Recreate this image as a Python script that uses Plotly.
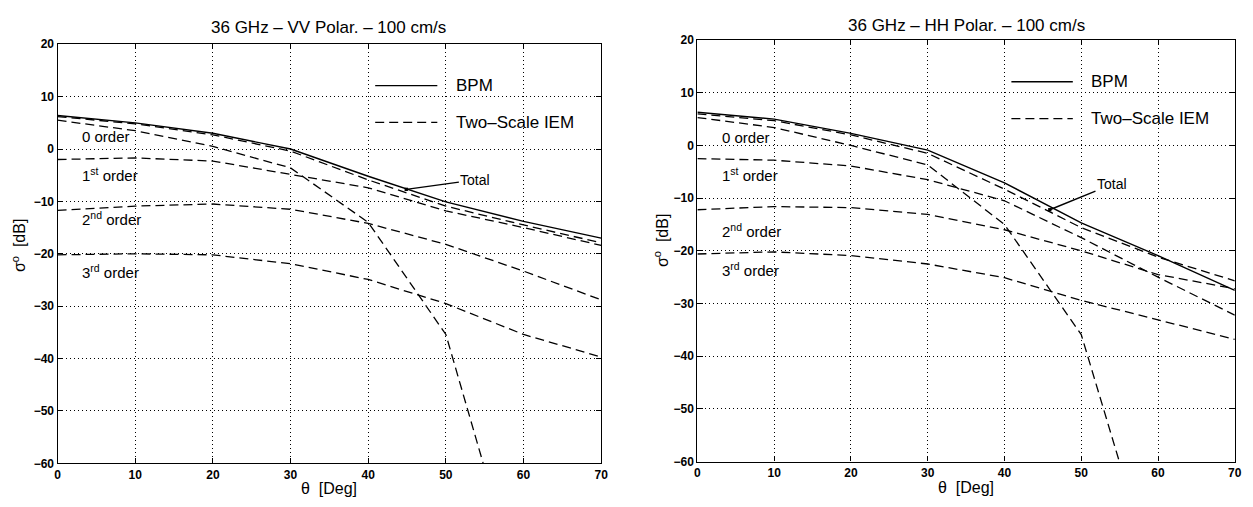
import plotly.graph_objects as go

# ---------------- data ----------------
THETA = [0, 10, 20, 30, 40, 50, 60, 70]
THETA_ZERO = [0, 10, 20, 30, 40, 50, 55]

# VV polarisation
VV_BPM = [6.4, 5.0, 3.0, 0.0, -5.2, -10.1, -13.8, -17.0]
VV_TOTAL = [6.2, 4.8, 2.7, -0.4, -5.9, -10.9, -14.5, -17.9]
VV_ORDER0 = [5.5, 3.5, 0.5, -3.6, -14.0, -35.4, -61.0]
VV_ORDER1 = [-2.0, -1.7, -2.3, -4.8, -7.4, -11.8, -15.0, -18.4]
VV_ORDER2 = [-11.7, -10.9, -10.5, -11.5, -14.2, -18.2, -23.3, -28.8]
VV_ORDER3 = [-20.2, -20.0, -20.2, -21.9, -24.9, -29.5, -35.4, -39.7]

# HH polarisation
HH_BPM = [6.3, 5.0, 2.3, -0.9, -7.1, -14.7, -20.9, -27.5]
HH_TOTAL = [6.0, 4.7, 2.0, -1.5, -8.3, -15.6, -21.2, -25.7]
HH_ORDER0 = [5.3, 3.4, 0.0, -3.7, -15.0, -35.9, -60.2]
HH_ORDER1 = [-2.5, -2.8, -3.9, -6.5, -10.5, -17.5, -25.0, -32.2]
HH_ORDER2 = [-12.2, -11.6, -11.8, -13.1, -16.0, -20.0, -24.5, -27.2]
HH_ORDER3 = [-20.6, -20.2, -20.9, -22.5, -25.1, -29.4, -33.1, -36.8]

TITLES = ["36 GHz \u2013 VV Polar. \u2013 100 cm/s", "36 GHz \u2013 HH Polar. \u2013 100 cm/s"]
ORDER_LABELS = ["0 order", "1<sup>st</sup> order", "2<sup>nd</sup> order", "3<sup>rd</sup> order"]
LEGEND_LABELS = ["BPM", "Two\u2013Scale IEM"]
X_TITLE = "\u03b8  [Deg]"
Y_TITLE = "\u03c3<sup>o</sup>  [dB]"
X_TICKS = [0, 10, 20, 30, 40, 50, 60, 70]
Y_TICKS = [-60, -50, -40, -30, -20, -10, 0, 10, 20]

# ---------------- layout helpers ----------------
W, H = 1253, 507
FONT = "Liberation Sans, Arial, Helvetica, sans-serif"


def pxx(x):
    return x / W


def pyy(y):
    return 1 - y / H


DOMAINS = [
    dict(x=[pxx(55), pxx(603)], y=[pyy(469.3), pyy(38.3)]),
    dict(x=[pxx(700), pxx(1241.7)], y=[pyy(467.5), pyy(34)]),
]

fig = go.Figure()

DASH = "9px,5px"
panels = [
    (VV_BPM, VV_TOTAL, VV_ORDER0, VV_ORDER1, VV_ORDER2, VV_ORDER3),
    (HH_BPM, HH_TOTAL, HH_ORDER0, HH_ORDER1, HH_ORDER2, HH_ORDER3),
]

for i, (bpm, tot, o0, o1, o2, o3) in enumerate(panels):
    xa = "x" if i == 0 else "x2"
    ya = "y" if i == 0 else "y2"
    dashed = dict(color="black", width=1.3, dash=DASH)
    for series, xs in [(o3, THETA), (o2, THETA), (o1, THETA), (o0, THETA_ZERO), (tot, THETA)]:
        fig.add_trace(go.Scatter(x=xs, y=series, mode="lines", line=dashed,
                                 xaxis=xa, yaxis=ya, showlegend=False, hoverinfo="skip"))
    fig.add_trace(go.Scatter(x=THETA, y=bpm, mode="lines",
                             line=dict(color="black", width=1.4),
                             xaxis=xa, yaxis=ya, showlegend=False, hoverinfo="skip"))

axis_common = dict(
    showline=True, linecolor="black", linewidth=1.3, mirror="allticks",
    ticks="inside", ticklen=5, tickcolor="black", tickwidth=1,
    showgrid=True, gridcolor="black", griddash="1px,3px", gridwidth=1.2,
    zeroline=False, tickfont=dict(family=FONT, size=12, color="black", weight="bold"),
)

fig.update_layout(
    width=W, height=H,
    margin=dict(l=0, r=0, t=0, b=0),
    paper_bgcolor="white", plot_bgcolor="white",
    font=dict(family=FONT, color="black"),
    xaxis=dict(domain=DOMAINS[0]["x"], anchor="y", range=[0, 70], tickvals=X_TICKS, **axis_common),
    yaxis=dict(domain=DOMAINS[0]["y"], anchor="x", range=[-60, 20], tickvals=Y_TICKS, **axis_common),
    xaxis2=dict(domain=DOMAINS[1]["x"], anchor="y2", range=[0, 70], tickvals=X_TICKS, **axis_common),
    yaxis2=dict(domain=DOMAINS[1]["y"], anchor="x2", range=[-60, 20], tickvals=Y_TICKS, **axis_common),
)

annotations = []
shapes = []

# per-panel decorations
order_pos = [
    [(2.9, 2.4), (2.9, -4.9), (2.9, -13.3), (2.9, -23.3)],
    [(3.0, 1.6), (3.0, -5.6), (3.0, -16.2), (3.0, -23.5)],
]
total_arrow = [
    dict(tip=(44.9, -7.7), text=(53.8, -5.9)),
    dict(tip=(45.9, -12.2), text=(54.0, -7.4)),
]
title_px = [(328, 21), (971, 19)]
xtitle_px = [(329, 495), (971, 494)]
ytitle_px = [(16, 245), (664, 240)]

for i in range(2):
    xr = "x" if i == 0 else "x2"
    yr = "y" if i == 0 else "y2"
    # titles
    annotations.append(dict(text=TITLES[i], x=pxx(title_px[i][0]), y=pyy(title_px[i][1]),
                            xref="paper", yref="paper", showarrow=False,
                            font=dict(size=17, family=FONT), xanchor="center", yanchor="middle"))
    annotations.append(dict(text=X_TITLE, x=pxx(xtitle_px[i][0]), y=pyy(xtitle_px[i][1]),
                            xref="paper", yref="paper", showarrow=False,
                            font=dict(size=16, family=FONT), xanchor="center", yanchor="middle"))
    annotations.append(dict(text=Y_TITLE, x=pxx(ytitle_px[i][0]), y=pyy(ytitle_px[i][1]),
                            xref="paper", yref="paper", showarrow=False, textangle=-90,
                            font=dict(size=16, family=FONT), xanchor="center", yanchor="middle"))
    # order labels
    for lab, (lx, ly) in zip(ORDER_LABELS, order_pos[i]):
        annotations.append(dict(text=lab, x=lx, y=ly, xref=xr, yref=yr, showarrow=False,
                                xanchor="left", yanchor="middle",
                                font=dict(size=15, family=FONT)))
    # legend (drawn inside the axes)
    shapes.append(dict(type="line", xref=xr, yref=yr, x0=40.9, x1=48.9, y0=12.1, y1=12.1,
                       line=dict(color="black", width=1.4)))
    shapes.append(dict(type="line", xref=xr, yref=yr, x0=40.9, x1=48.9, y0=5.1, y1=5.1,
                       line=dict(color="black", width=1.3, dash=DASH)))
    annotations.append(dict(text=LEGEND_LABELS[0], x=51.0, y=12.1, xref=xr, yref=yr,
                            showarrow=False, xanchor="left", yanchor="middle",
                            font=dict(size=17, family=FONT)))
    annotations.append(dict(text=LEGEND_LABELS[1], x=51.0, y=5.1, xref=xr, yref=yr,
                            showarrow=False, xanchor="left", yanchor="middle",
                            font=dict(size=17, family=FONT)))
    # "Total" arrow
    ta = total_arrow[i]
    annotations.append(dict(text="Total", x=ta["tip"][0], y=ta["tip"][1], xref=xr, yref=yr,
                            ax=ta["text"][0], ay=ta["text"][1], axref=xr, ayref=yr,
                            showarrow=True, arrowhead=7, arrowsize=0.6, arrowwidth=1.4,
                            arrowcolor="black", font=dict(size=14, family=FONT)))

fig.update_layout(annotations=annotations, shapes=shapes)

fig.write_html("out.html")
